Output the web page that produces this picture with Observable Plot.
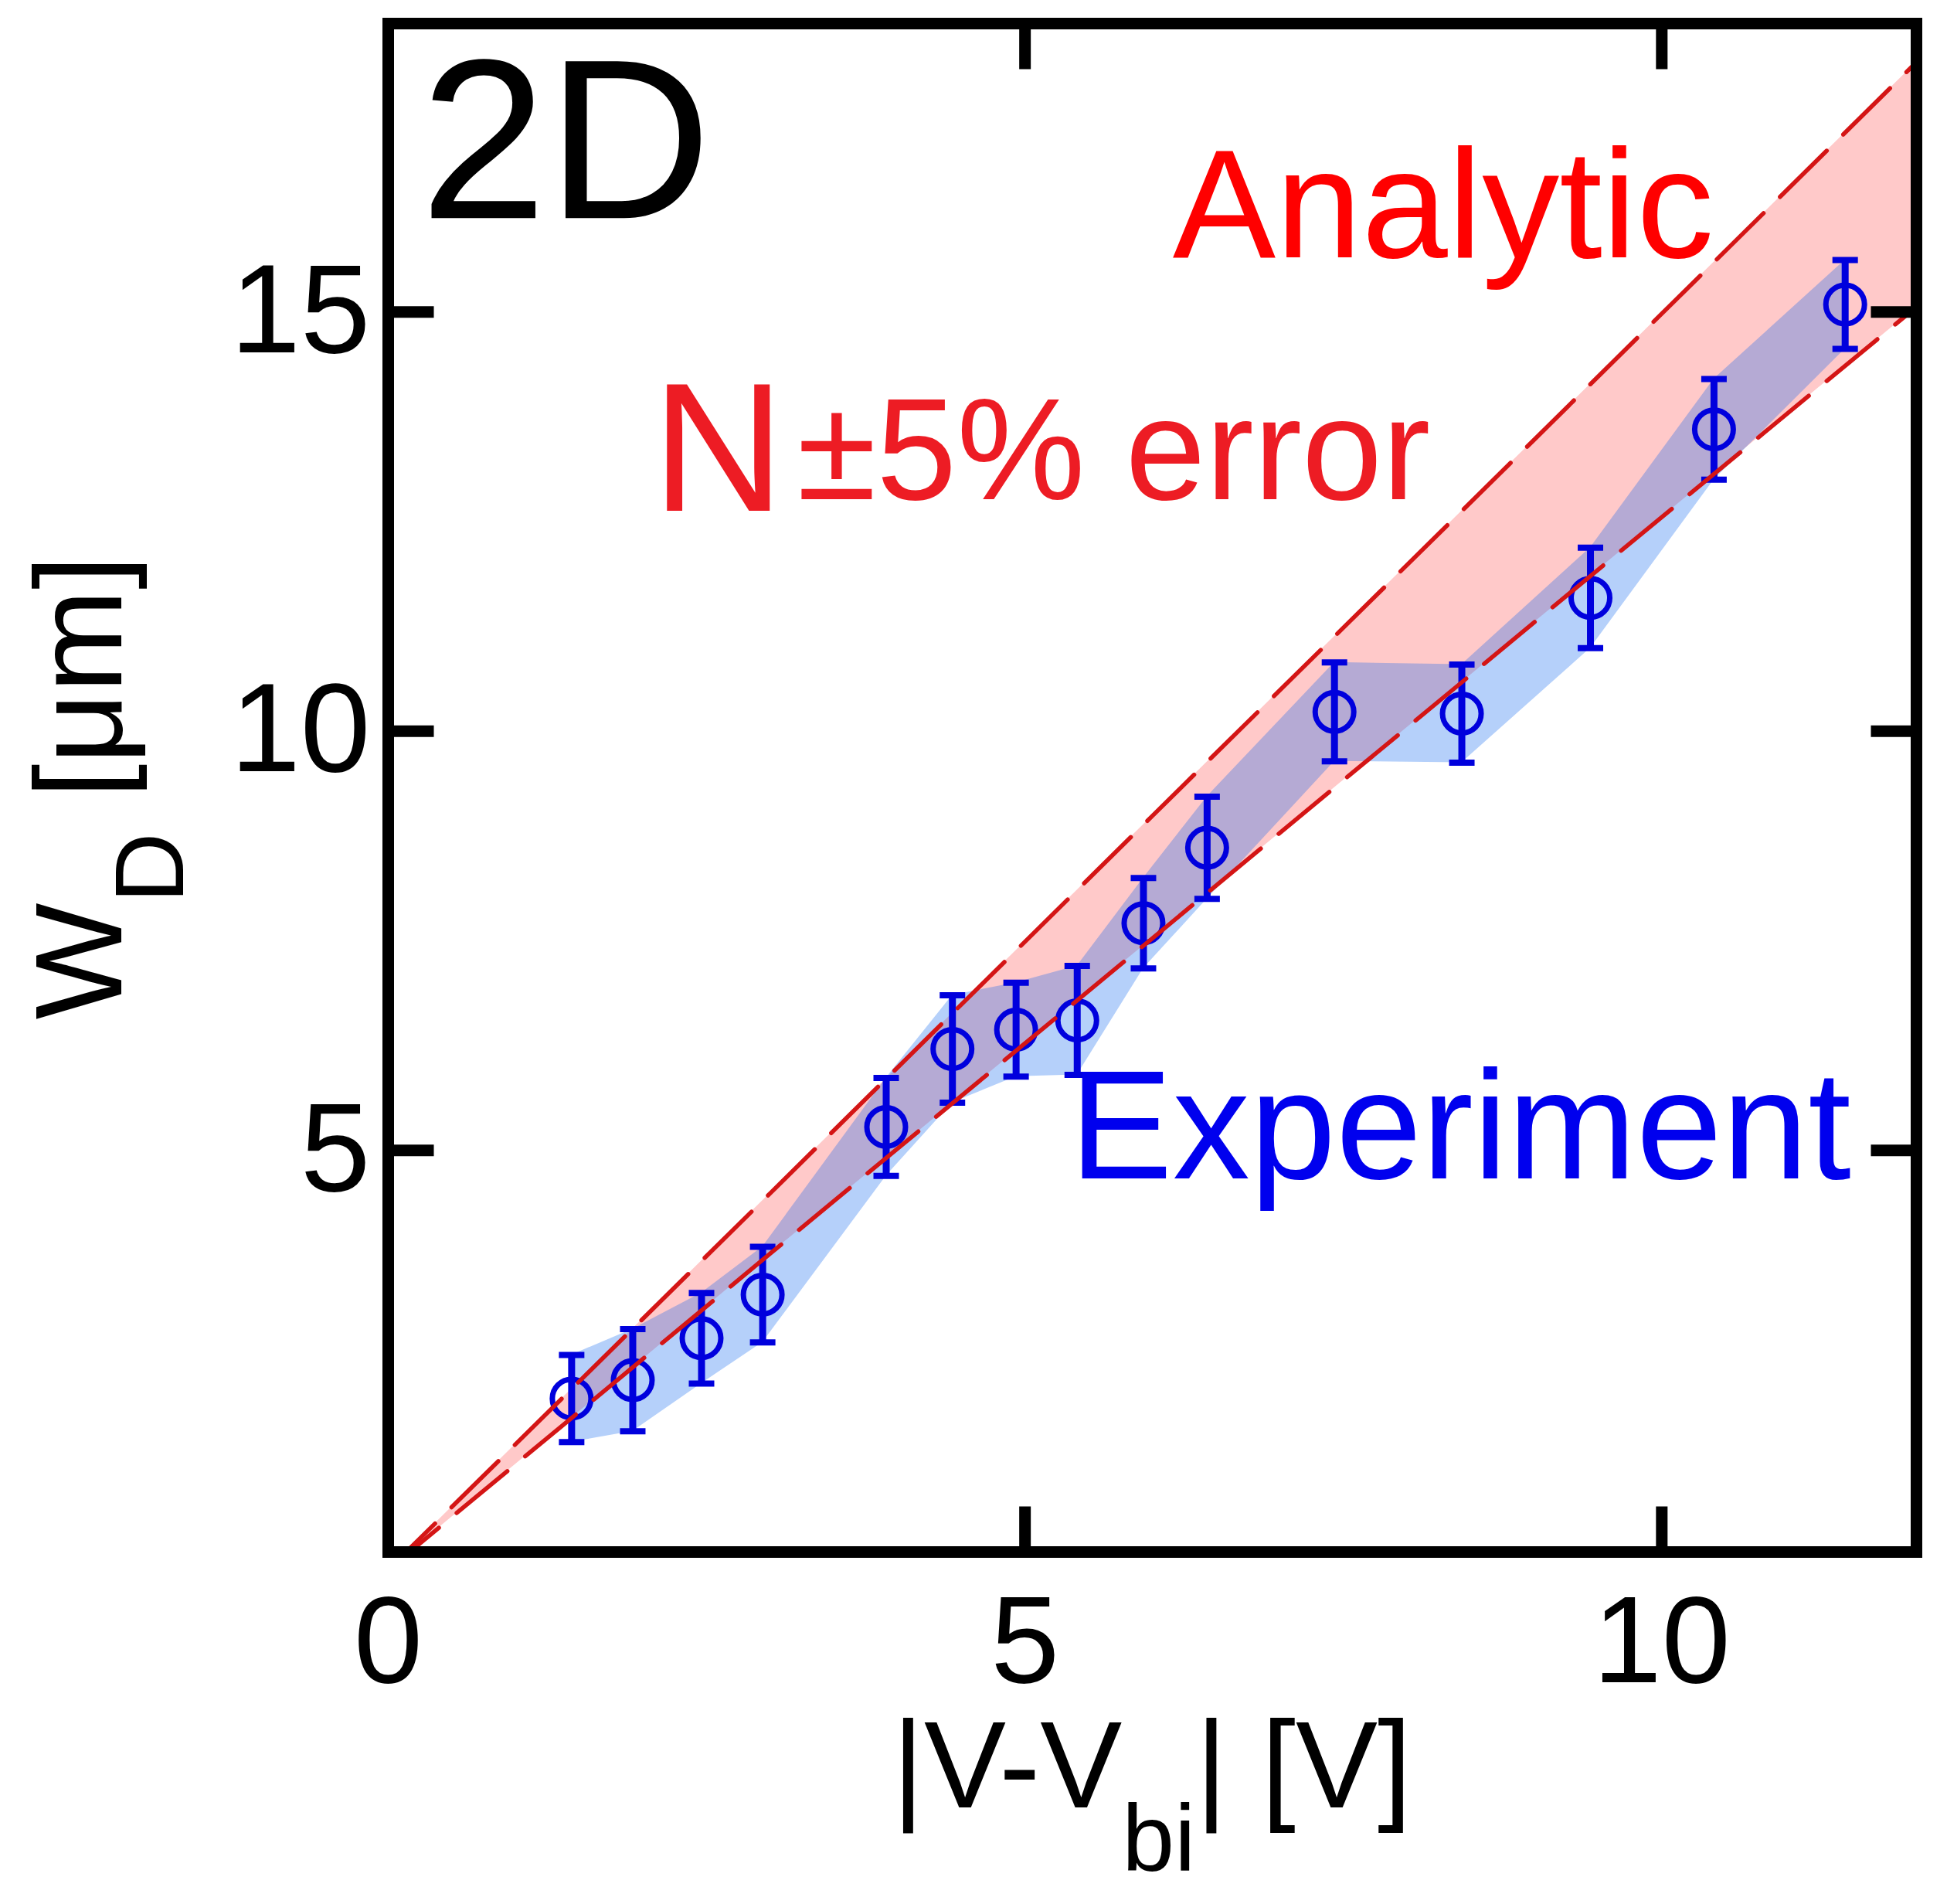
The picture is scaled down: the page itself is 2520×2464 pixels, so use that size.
<!DOCTYPE html>
<html>
<head>
<meta charset="utf-8">
<script src="https://cdn.jsdelivr.net/npm/d3@7"></script>
<script src="https://cdn.jsdelivr.net/npm/@observablehq/plot@0.6"></script>
<style>
  html, body { margin: 0; padding: 0; background: #ffffff; }
  #chart svg { display: block; }
</style>
</head>
<body>
<div id="chart"></div>
<script>
// Experimental data: |V - Vbi| [V], W_D [um], error bar half-height [um]
const vExp = [1.44, 1.92, 2.46, 2.94, 3.91, 4.43, 4.93, 5.41, 5.93, 6.43, 7.43, 8.43, 9.44, 10.41, 11.44];
const wExp = [2.04, 2.26, 2.76, 3.28, 5.28, 6.21, 6.44, 6.55, 7.71, 8.61, 10.23, 10.21, 11.59, 13.60, 15.09];
const wErr = [0.52, 0.61, 0.54, 0.57, 0.585, 0.64, 0.56, 0.65, 0.54, 0.61, 0.59, 0.585, 0.60, 0.60, 0.53];

// Analytic band (N +/- 5%)
const vAna = [0, 3, 6, 9, 12];
const wAnaUpper = [0, 4.49, 8.99, 13.48, 17.98];
const wAnaLower = [0, 3.77, 7.53, 11.30, 15.06];

// Axis ticks
const xTicks = [0, 5, 10];
const xInnerTicks = [5, 10];
const yTicks = [5, 10, 15];

const experiment = vExp.map((v, i) => ({v, w: wExp[i], lo: wExp[i] - wErr[i], hi: wExp[i] + wErr[i]}));
const analytic = vAna.map((v, i) => ({v, up: wAnaUpper[i], lo: wAnaLower[i]}));

const BLUE = "#0000DD";
const RED = "#D41515";
const FONT = "Liberation Sans, Arial, sans-serif";

const capSymbol = {draw(c, s) { const r = Math.sqrt(s / Math.PI); c.moveTo(-r, 0); c.lineTo(r, 0); }};
const mk = (dx, dy) => ({draw(c, s) { const l = Math.sqrt(s / Math.PI); c.moveTo(0, 0); c.lineTo(dx * l, dy * l); }});
const tUp = mk(0, -1), tDown = mk(0, 1), tRight = mk(1, 0), tLeft = mk(-1, 0);
const tickOpts = {r: 59, stroke: "black", strokeWidth: 15, fill: "none", strokeLinecap: "butt"};

const plot = Plot.plot({
  width: 2520,
  height: 2464,
  marginLeft: 502,
  marginRight: 40,
  marginTop: 30,
  marginBottom: 456,
  style: {fontFamily: FONT, background: "white", color: "black"},
  x: {domain: [0, 12]},
  y: {domain: [0.21, 18.44]},
  marks: [
    Plot.areaY(analytic, {x: "v", y1: "lo", y2: "up", fill: "#FFC9C9", clip: true}),
    Plot.areaY(experiment, {x: "v", y1: "lo", y2: "hi", fill: "#0A64F0", fillOpacity: 0.3}),
    Plot.ruleX(experiment, {x: "v", y1: "lo", y2: "hi", stroke: BLUE, strokeWidth: 9}),
    Plot.dot(experiment, {x: "v", y: "hi", symbol: capSymbol, r: 16.5, stroke: BLUE, strokeWidth: 8, fill: "none"}),
    Plot.dot(experiment, {x: "v", y: "lo", symbol: capSymbol, r: 16.5, stroke: BLUE, strokeWidth: 8, fill: "none"}),
    Plot.dot(experiment, {x: "v", y: "w", r: 25, stroke: BLUE, strokeWidth: 7, fill: "none"}),
    Plot.line(analytic, {x: "v", y: "up", stroke: RED, strokeWidth: 5.5, strokeDasharray: "85,30", clip: true}),
    Plot.line(analytic, {x: "v", y: "lo", stroke: RED, strokeWidth: 5.5, strokeDasharray: "85,30", clip: true}),
    Plot.frame({stroke: "black", strokeWidth: 15}),
    Plot.dot(xInnerTicks, {x: d => d, frameAnchor: "bottom", symbol: tUp, ...tickOpts}),
    Plot.dot(xInnerTicks, {x: d => d, frameAnchor: "top", symbol: tDown, ...tickOpts}),
    Plot.dot(yTicks, {y: d => d, frameAnchor: "left", symbol: tRight, ...tickOpts}),
    Plot.dot(yTicks, {y: d => d, frameAnchor: "right", symbol: tLeft, ...tickOpts}),
    Plot.axisX(xTicks, {tickSize: 0, tickPadding: 55, fontSize: 160, label: null, tickFormat: d => String(d)}),
    Plot.axisY(yTicks, {tickSize: 0, tickPadding: 23, fontSize: 163, label: null, tickFormat: d => String(d)}),
    Plot.text(["2D"], {x: 0.25, y: 16.12, text: d => d, fontSize: 295, textAnchor: "start", lineAnchor: "bottom", fill: "black"}),
    Plot.text(["Analytic"], {x: 6.16, y: 15.65, text: d => d, fontSize: 200, textAnchor: "start", lineAnchor: "bottom", fill: "#FF0000"}),
    Plot.text(["N"], {x: 2.07, y: 12.63, text: d => d, fontSize: 238, textAnchor: "start", lineAnchor: "bottom", fill: "#ED1C24"}),
    Plot.text(["±5% error"], {x: 3.21, y: 12.77, text: d => d, fontSize: 187, textAnchor: "start", lineAnchor: "bottom", fill: "#ED1C24"}),
    Plot.text(["Experiment"], {x: 5.35, y: 4.67, text: d => d, fontSize: 200, textAnchor: "start", lineAnchor: "bottom", fill: "#0000EE"})
  ]
});

document.getElementById("chart").appendChild(plot);

// Axis titles with subscripts
const svg = d3.select(plot);
const xr = plot.scale("x").range;
const yr = plot.scale("y").range;
const xc = (xr[0] + xr[1]) / 2;
const yc = (yr[0] + yr[1]) / 2;

const xt = svg.append("text")
  .attr("x", xc).attr("y", 2339)
  .attr("text-anchor", "middle")
  .attr("font-family", FONT)
  .attr("font-size", 159)
  .attr("fill", "black");
xt.append("tspan").text("|V-V");
xt.append("tspan").attr("font-size", 122).attr("dy", 82).text("bi");
xt.append("tspan").attr("dy", -82).text("| [V]");

const yt = svg.append("text")
  .attr("transform", `translate(157,${yc}) rotate(-90)`)
  .attr("text-anchor", "middle")
  .attr("font-family", FONT)
  .attr("font-size", 160)
  .attr("fill", "black");
yt.append("tspan").text("W");
yt.append("tspan").attr("font-size", 126).attr("dy", 80).text("D");
yt.append("tspan").attr("dy", -80).text(" [μm]");
</script>
</body>
</html>
